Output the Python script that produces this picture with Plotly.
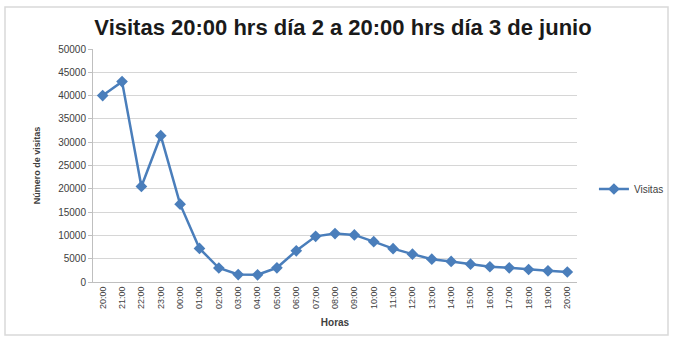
import plotly.graph_objects as go

horas = ["20:00", "21:00", "22:00", "23:00", "00:00", "01:00", "02:00", "03:00",
         "04:00", "05:00", "06:00", "07:00", "08:00", "09:00", "10:00", "11:00",
         "12:00", "13:00", "14:00", "15:00", "16:00", "17:00", "18:00", "19:00",
         "20:00"]
visitas = [40000, 43000, 20500, 31400, 16700, 7200, 3000, 1600, 1550, 3050,
           6700, 9800, 10400, 10100, 8650, 7150, 5980, 4900, 4420, 3830,
           3270, 3050, 2680, 2400, 2150]
y_ticks = list(range(0, 50001, 5000))

pos = list(range(len(horas)))
blue = "#4a7ebb"

fig = go.Figure()
fig.add_trace(go.Scatter(
    x=pos, y=visitas, mode="lines+markers", name="Visitas",
    line=dict(color=blue, width=2.5),
    marker=dict(symbol="diamond", size=9, color=blue),
))

fig.update_layout(
    width=674, height=339,
    margin=dict(l=93, r=97, t=49, b=57, autoexpand=False),
    paper_bgcolor="white", plot_bgcolor="white",
    font=dict(family="Liberation Sans", color="#404040"),
    title=dict(text="<b>Visitas 20:00 hrs día 2 a 20:00 hrs día 3 de junio</b>",
               x=(343 - 93) / 484, xref="paper", xanchor="center", y=0.918, yanchor="middle",
               font=dict(size=22, color="#1a1a1a", family="Liberation Sans")),
    showlegend=True,
    legend=dict(x=1.035, y=(282 - 189) / 233, xanchor="left", yanchor="middle",
                font=dict(size=10, color="#404040"), bgcolor="rgba(0,0,0,0)",
                itemwidth=30),
    xaxis=dict(
        range=[-0.5, len(horas) - 0.5],
        tickmode="array", tickvals=pos, ticktext=horas, tickangle=-90,
        tickfont=dict(size=9, color="#404040"),
        showgrid=False, zeroline=False,
        showline=True, linecolor="#bfbfbf", linewidth=1,
        title=dict(text="<b>Horas</b>", font=dict(size=10, color="#404040"), standoff=10),
        fixedrange=True,
    ),
    yaxis=dict(
        range=[0, 50000], tickmode="array", tickvals=y_ticks,
        ticktext=[str(v) for v in y_ticks],
        tickfont=dict(size=10, color="#404040"),
        showgrid=True, gridcolor="#d6d6d6", gridwidth=1, zeroline=False,
        showline=True, linecolor="#bfbfbf", linewidth=1,
        ticks="outside", ticklen=4, tickcolor="#bfbfbf",
        title=dict(text="<b>Número de visitas</b>", font=dict(size=9, color="#404040"), standoff=16),
    ),
    shapes=[dict(type="rect", xref="paper", yref="paper",
                 x0=(5 - 93) / 484, x1=(668 - 93) / 484,
                 y0=(282 - 335) / 233, y1=(282 - 7) / 233,
                 line=dict(color="#d9d9d9", width=1.5), fillcolor="rgba(0,0,0,0)",
                 layer="below")],
)

fig.write_html("out.html")
